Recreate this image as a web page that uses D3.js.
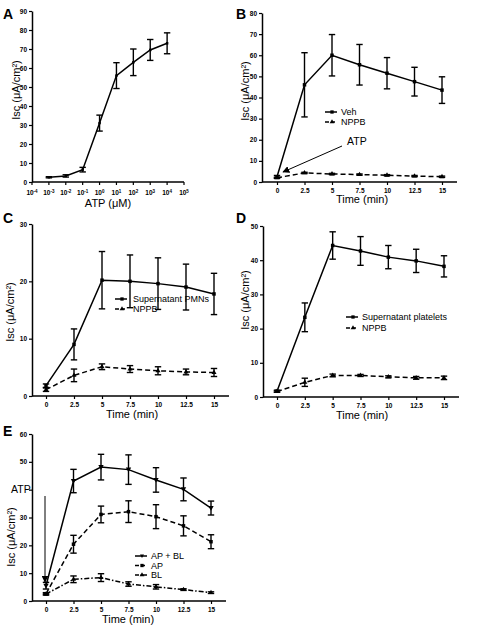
<!DOCTYPE html>
<html><head><meta charset="utf-8">
<script src="https://cdn.jsdelivr.net/npm/d3@7"></script>
<style>
body{margin:0;background:#fff;}
svg{display:block;font-family:"Liberation Sans",Arial,sans-serif;}
</style></head>
<body><svg id="c" width="481" height="628"></svg>
<script>
// ---- data ----
const timeTicks = [0, 2.5, 5, 7.5, 10, 12.5, 15];
const timeLabels = ["0", "2.5", "5", "7.5", "10", "12.5", "15"];
// Panel A
const atpExp = [-3, -2, -1, 0, 1, 2, 3, 4];
const atpIsc = [2.5, 3.2, 6.5, 31, 56, 63, 69.5, 73];
const atpErr = [0.3, 0.6, 1.2, 4.2, 6.8, 7, 5.5, 5.5];
const atpTickExp = [-4, -3, -2, -1, 0, 1, 2, 3, 4, 5];
// Panel B
const bVeh = [2.5, 46, 60, 55.5, 51.5, 47.5, 43.5];
const bVehErr = [0.6, 15.2, 9.8, 9.6, 7.4, 6.8, 6.3];
const bNppb = [2, 4.3, 3.8, 3.5, 3.2, 2.8, 2.5];
const bNppbErr = [0.3, 0.3, 0.3, 0.3, 0.3, 0.3, 0.3];
// Panel C
const cPmn = [1.8, 9, 20.2, 20, 19.6, 19, 17.8];
const cPmnErr = [0.3, 2.7, 5, 4.6, 4.5, 4, 3.6];
const cNppb = [1.1, 3.6, 5.1, 4.7, 4.4, 4.2, 4.1];
const cNppbErr = [0.3, 1.1, 0.5, 0.6, 0.7, 0.5, 0.7];
// Panel D
const dPlt = [1.7, 23.3, 44.3, 42.7, 40.9, 39.8, 38.2];
const dPltErr = [0.3, 4.2, 4, 4.2, 3.4, 3.4, 3.1];
const dNppb = [1.6, 4.3, 6.3, 6.3, 5.9, 5.6, 5.6];
const dNppbErr = [0.2, 1.2, 0.4, 0.3, 0.3, 0.4, 0.5];
// Panel E
const eApBl = [5.5, 43.1, 48.1, 47.2, 43.5, 40.1, 33.4];
const eApBlErr = [1.2, 4.2, 4.6, 5.3, 4.4, 4.1, 2.5];
const eAp = [2.6, 20.4, 31.1, 32.1, 30.3, 27, 21.3];
const eApErr = [0.4, 3.2, 3, 3.9, 4.3, 3.6, 2.5];
const eBl = [2.5, 7.8, 8.4, 6.1, 5.1, 4.1, 3];
const eBlErr = [0.3, 1.2, 1.4, 0.8, 0.8, 0.3, 0.3];
const eHiddenTickLabels = [40]; // covered by the "ATP" annotation in the original

const svg = d3.select("#c");
const FONT = "'Liberation Sans',Arial,sans-serif";
const yTitle = "Isc (μA/cm²)";

svg.append("defs").append("marker")
  .attr("id", "arr").attr("viewBox", "0 0 10 10").attr("refX", 9).attr("refY", 5)
  .attr("markerWidth", 7).attr("markerHeight", 7).attr("orient", "auto")
  .attr("markerUnits", "userSpaceOnUse")
  .append("path").attr("d", "M0,0 L10,5 L0,10 z").attr("fill", "#000");

function markerPath(type, s) {
  if (type === "square") return d3.symbol(d3.symbolSquare, s * s)();
  if (type === "tri") return d3.symbol(d3.symbolTriangle, s * s * 0.9)();
  if (type === "dtri") return "M" + (-s * 0.6) + "," + (-s * 0.45) + "L" + (s * 0.6) + "," + (-s * 0.45) + "L0," + (s * 0.6) + "Z";
  return d3.symbol(d3.symbolCircle, s * s)();
}

function drawSeries(g, x, y, xs, vals, errs, opt) {
  const pts = xs.map((xv, i) => [x(xv), y(vals[i]), errs[i], vals[i]]);
  g.append("path").attr("d", d3.line()(pts.map(p => [p[0], p[1]])))
    .attr("fill", "none").attr("stroke", "#000").attr("stroke-width", 1.5)
    .attr("stroke-dasharray", opt.dash || null);
  const eb = g.append("g").attr("stroke", "#000").attr("stroke-width", 1.4);
  pts.forEach(p => {
    const top = y(p[3] + p[2]), bot = y(p[3] - p[2]);
    eb.append("line").attr("x1", p[0]).attr("x2", p[0]).attr("y1", top).attr("y2", bot);
    eb.append("line").attr("x1", p[0] - 3.2).attr("x2", p[0] + 3.2).attr("y1", top).attr("y2", top);
    eb.append("line").attr("x1", p[0] - 3.2).attr("x2", p[0] + 3.2).attr("y1", bot).attr("y2", bot);
  });
  pts.forEach(p => {
    g.append("path").attr("d", markerPath(opt.marker, opt.size || 3.5))
      .attr("transform", `translate(${p[0]},${p[1]})`).attr("fill", "#000");
  });
}

function drawLegend(g, x0, y0, items, tdx) {
  items.forEach((it, i) => {
    const yy = y0 + i * it.step;
    g.append("line").attr("x1", x0).attr("x2", x0 + 12).attr("y1", yy).attr("y2", yy)
      .attr("stroke", "#000").attr("stroke-width", 1.5).attr("stroke-dasharray", it.dash || null);
    g.append("path").attr("d", markerPath(it.marker, 3.3)).attr("transform", `translate(${x0 + 7},${yy})`);
    g.append("text").attr("x", x0 + (tdx || 16)).attr("y", yy + 3.2).attr("font-size", 9).text(it.label);
  });
}

function yAxis(g, y, axX, max, step, hidden) {
  const ticks = d3.range(0, max + 0.001, step);
  const hid = hidden || [];
  const ax = d3.axisLeft(y).tickValues(ticks).tickSize(3).tickPadding(2).tickSizeOuter(0)
    .tickFormat(d => hid.includes(d) ? "" : String(d));
  const ga = g.append("g").attr("transform", `translate(${axX},0)`).call(ax);
  ga.select(".domain").attr("stroke-width", 1.5);
  ga.selectAll(".tick line").attr("stroke-width", 1.2);
  ga.selectAll(".tick text").attr("font-size", 6.5).attr("font-weight", "bold").attr("font-family", FONT);
}

function timeXAxis(g, x, axX, y0) {
  const ax = d3.axisBottom(x).tickValues(timeTicks).tickFormat((d, i) => timeLabels[i])
    .tickSize(3).tickPadding(3);
  const ga = g.append("g").attr("transform", `translate(0,${y0})`).call(ax);
  ga.select(".domain").remove();
  ga.selectAll(".tick line").attr("stroke-width", 1.2);
  ga.selectAll(".tick text").attr("font-size", 6.5).attr("font-weight", "bold").attr("font-family", FONT);
  g.append("line").attr("x1", axX).attr("x2", x(15) + 15).attr("y1", y0).attr("y2", y0)
    .attr("stroke", "#000").attr("stroke-width", 1.5);
}

function titles(g, letter, lx, ly, ytx, ytyc, xLabel, xlx, xly) {
  g.append("text").attr("x", lx).attr("y", ly).attr("font-size", 14).attr("font-weight", "bold").text(letter);
  g.append("text").attr("transform", `translate(${ytx},${ytyc}) rotate(-90)`)
    .attr("text-anchor", "middle").attr("font-size", 11).text(yTitle);
  g.append("text").attr("x", xlx).attr("y", xly).attr("text-anchor", "middle").attr("font-size", 11).text(xLabel);
}

// ---- Panel A ----
(function () {
  const g = svg.append("g");
  const x = d3.scaleLog().domain([1e-4, 1e5]).range([32, 184]);
  const y = d3.scaleLinear().domain([0, 90]).range([182, 11]);
  yAxis(g, y, 32, 90, 10);
  g.append("line").attr("x1", 32).attr("x2", 184).attr("y1", 182).attr("y2", 182).attr("stroke", "#000").attr("stroke-width", 1.5);
  atpTickExp.forEach(e => {
    const xx = x(Math.pow(10, e));
    g.append("line").attr("x1", xx).attr("x2", xx).attr("y1", 182).attr("y2", 185).attr("stroke", "#000").attr("stroke-width", 1.2);
    const t = g.append("text").attr("x", xx).attr("y", 195).attr("text-anchor", "middle")
      .attr("font-size", 6.5).attr("font-weight", "bold");
    t.append("tspan").text("10");
    t.append("tspan").attr("dy", -2.5).attr("font-size", 4.5).text(String(e));
  });
  drawSeries(g, x, y, atpExp.map(e => Math.pow(10, e)), atpIsc, atpErr, { marker: "square", size: 2.5 });
  titles(g, "A", 3, 19, 20, 90, "ATP (μM)", 108, 207);
})();

// ---- Panel B ----
(function () {
  const g = svg.append("g");
  const x = d3.scaleLinear().domain([0, 15]).range([277, 442]);
  const y = d3.scaleLinear().domain([0, 80]).range([182, 13]);
  yAxis(g, y, 262, 80, 10);
  timeXAxis(g, x, 262, 182);
  drawSeries(g, x, y, timeTicks, bNppb, bNppbErr, { marker: "tri", dash: "5,3" });
  drawSeries(g, x, y, timeTicks, bVeh, bVehErr, { marker: "square" });
  drawLegend(g, 325, 112, [
    { label: "Veh", marker: "square", step: 10 },
    { label: "NPPB", marker: "tri", dash: "4,2", step: 10 }]);
  g.append("text").attr("x", 347).attr("y", 145).attr("font-size", 10.5).text("ATP");
  g.append("line").attr("x1", 342).attr("y1", 146).attr("x2", 283).attr("y2", 172)
    .attr("stroke", "#000").attr("stroke-width", 1).attr("marker-end", "url(#arr)");
  titles(g, "B", 236, 19, 249, 91, "Time (min)", 362, 203);
})();

// ---- Panel C ----
(function () {
  const g = svg.append("g");
  const x = d3.scaleLinear().domain([0, 15]).range([46, 214]);
  const y = d3.scaleLinear().domain([0, 30]).range([396, 224]);
  yAxis(g, y, 32, 30, 10);
  timeXAxis(g, x, 32, 396);
  drawSeries(g, x, y, timeTicks, cNppb, cNppbErr, { marker: "tri", dash: "5,3" });
  drawSeries(g, x, y, timeTicks, cPmn, cPmnErr, { marker: "square" });
  drawLegend(g, 115, 299, [
    { label: "Supernatant PMNs", marker: "square", step: 10 },
    { label: "NPPB", marker: "tri", dash: "4,2", step: 10 }], 18);
  titles(g, "C", 3, 223, 14, 312, "Time (min)", 132, 418);
})();

// ---- Panel D ----
(function () {
  const g = svg.append("g");
  const x = d3.scaleLinear().domain([0, 15]).range([277, 444]);
  const y = d3.scaleLinear().domain([0, 50]).range([397, 226]);
  yAxis(g, y, 263, 50, 10);
  timeXAxis(g, x, 263, 397);
  drawSeries(g, x, y, timeTicks, dNppb, dNppbErr, { marker: "tri", dash: "5,3" });
  drawSeries(g, x, y, timeTicks, dPlt, dPltErr, { marker: "square" });
  drawLegend(g, 346, 317, [
    { label: "Supernatant platelets", marker: "square", step: 11 },
    { label: "NPPB", marker: "tri", dash: "4,2", step: 11 }]);
  titles(g, "D", 236, 223, 249, 300, "Time (min)", 362, 419);
})();

// ---- Panel E ----
(function () {
  const g = svg.append("g");
  const x = d3.scaleLinear().domain([0, 15]).range([46, 211]);
  const y = d3.scaleLinear().domain([0, 60]).range([601, 434]);
  yAxis(g, y, 32, 60, 10, eHiddenTickLabels);
  timeXAxis(g, x, 32, 601);
  drawSeries(g, x, y, timeTicks, eBl, eBlErr, { marker: "tri", dash: "5,2,1.5,2" });
  drawSeries(g, x, y, timeTicks, eAp, eApErr, { marker: "square", dash: "5,3" });
  drawSeries(g, x, y, timeTicks, eApBl, eApBlErr, { marker: "dtri", size: 4.5 });
  drawLegend(g, 135, 556, [
    { label: "AP + BL", marker: "dtri", step: 9.5 },
    { label: "AP", marker: "square", dash: "4,2", step: 9.5 },
    { label: "BL", marker: "tri", dash: "4,1.5,1,1.5", step: 9.5 }]);
  g.append("text").attr("x", 11).attr("y", 493).attr("font-size", 10.5).text("ATP");
  g.append("line").attr("x1", 45).attr("y1", 496).attr("x2", 45).attr("y2", 582)
    .attr("stroke", "#000").attr("stroke-width", 1).attr("marker-end", "url(#arr)");
  titles(g, "E", 3, 436, 15, 537, "Time (min)", 128, 623);
})();
</script></body></html>
